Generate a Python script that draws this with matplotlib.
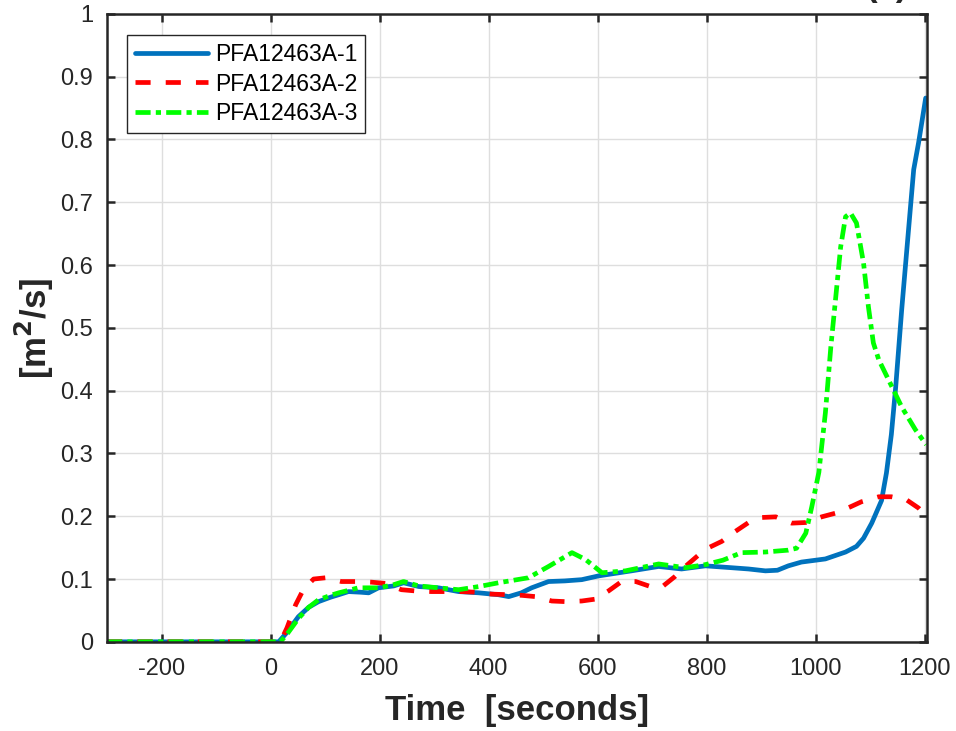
import matplotlib
matplotlib.use("Agg")
import matplotlib.pyplot as plt

plt.rcParams["font.family"] = ["Liberation Sans", "DejaVu Sans"]
plt.rcParams["axes.unicode_minus"] = False

# 데이터
t1 = [-300, 15, 30, 51, 70, 88, 110, 125, 143, 165, 180, 198, 226, 244, 272, 308, 345, 382,
      418, 437, 460, 479, 510, 540, 571, 602, 632, 662, 712, 754, 798, 846, 877, 908, 930,
      950, 974, 1018, 1055, 1075, 1088, 1103, 1121, 1130, 1139, 1147, 1158, 1171, 1180, 1189, 1202]
y1 = [0, 0, 0.015, 0.040, 0.055, 0.064, 0.071, 0.075, 0.080, 0.079, 0.078, 0.086, 0.089, 0.094,
      0.088, 0.086, 0.080, 0.078, 0.075, 0.072, 0.078, 0.086, 0.096, 0.097, 0.099, 0.105, 0.109,
      0.113, 0.120, 0.116, 0.121, 0.118, 0.116, 0.113, 0.114, 0.121, 0.127, 0.132, 0.143, 0.152,
      0.165, 0.189, 0.225, 0.269, 0.330, 0.406, 0.529, 0.661, 0.752, 0.795, 0.866]

t2 = [-300, 18, 30, 46, 60, 79, 101, 130, 156, 185, 211, 240, 266, 295, 321, 350, 376, 405,
      437, 461, 486, 516, 541, 571, 596, 620, 644, 670, 697, 719, 742, 761, 785, 804, 828, 853,
      877, 901, 927, 956, 982, 1011, 1037, 1064, 1084, 1116, 1139, 1167, 1189, 1203]
y2 = [0, 0, 0.022, 0.059, 0.083, 0.100, 0.102, 0.096, 0.096, 0.095, 0.093, 0.083, 0.081, 0.080,
      0.080, 0.080, 0.079, 0.076, 0.075, 0.074, 0.072, 0.065, 0.064, 0.065, 0.068, 0.081, 0.096,
      0.096, 0.088, 0.088, 0.104, 0.120, 0.138, 0.150, 0.160, 0.176, 0.190, 0.198, 0.199, 0.189,
      0.190, 0.199, 0.205, 0.215, 0.223, 0.231, 0.231, 0.226, 0.213, 0.200]

t3 = [-300, 18, 30, 51, 70, 88, 110, 125, 161, 198, 226, 244, 272, 308, 345, 382, 418, 473,
      510, 553, 578, 608, 651, 712, 761, 798, 830, 864, 908, 950, 965, 982, 993, 1006, 1018,
      1028, 1037, 1046, 1055, 1064, 1075, 1088, 1097, 1106, 1116, 1134, 1158, 1183, 1203]
y3 = [0, 0, 0.012, 0.037, 0.055, 0.067, 0.074, 0.078, 0.086, 0.086, 0.091, 0.096, 0.089, 0.086,
      0.083, 0.088, 0.094, 0.102, 0.120, 0.142, 0.131, 0.110, 0.113, 0.124, 0.118, 0.123, 0.130,
      0.142, 0.143, 0.146, 0.149, 0.173, 0.215, 0.270, 0.365, 0.470, 0.549, 0.629, 0.677, 0.683,
      0.667, 0.603, 0.533, 0.476, 0.449, 0.417, 0.374, 0.338, 0.314]

labels = ["PFA12463A-1", "PFA12463A-2", "PFA12463A-3"]
xticks = [-200, 0, 200, 400, 600, 800, 1000, 1200]
yticks = [0, 0.1, 0.2, 0.3, 0.4, 0.5, 0.6, 0.7, 0.8, 0.9, 1]
ytick_labels = ["0", "0.1", "0.2", "0.3", "0.4", "0.5", "0.6", "0.7", "0.8", "0.9", "1"]

fig = plt.figure(figsize=(9.56, 7.31), dpi=100)
ax = fig.add_axes([0.112, 0.122, 0.858, 0.859])

lw = 3.4
ax.plot(t1, y1, color="#0072BD", lw=lw, label=labels[0], solid_capstyle="round")
ax.plot(t2, y2, color="#FF0000", lw=lw, ls=(0, (3.2, 3.2)), label=labels[1])
ax.plot(t3, y3, color="#00FF00", lw=lw, ls=(0, (3.2, 1.1, 1.1, 1.1)), label=labels[2])

ax.set_xlim(-300, 1205)
ax.set_ylim(0, 1)
ax.set_xticks(xticks)
ax.set_yticks(yticks)
ax.set_yticklabels(ytick_labels)
ax.grid(True, color="#dedede", lw=1.0)
ax.set_axisbelow(True)
ax.tick_params(direction="in", length=6, width=1.8, top=True, right=True,
               labelsize=17, colors="#262626")
ax.tick_params(axis="x", pad=12)
ax.tick_params(axis="y", pad=10)
for s in ax.spines.values():
    s.set_linewidth(1.8)
    s.set_color("#262626")

ax.set_xlabel("Time  [seconds]", fontsize=25, fontweight="bold", color="#262626", labelpad=10)
ax.set_ylabel("[m$^{\\mathbf{2}}$/s]", fontsize=25, fontweight="bold", color="#262626", labelpad=3)

leg = ax.legend(loc="upper left", bbox_to_anchor=(0.024, 0.967), borderaxespad=0,
                fontsize=16.5, handlelength=3.2, frameon=True, fancybox=False,
                framealpha=1, edgecolor="#262626", borderpad=0.35, labelspacing=0.3,
                handletextpad=0.3)
leg.get_frame().set_linewidth(1.0)

# 잘린 패널 제목
fig.text(0.927, 1.005, "(a)", fontsize=25, fontweight="bold", color="#262626",
         ha="center", va="baseline")

fig.savefig("out.png", dpi=100)
